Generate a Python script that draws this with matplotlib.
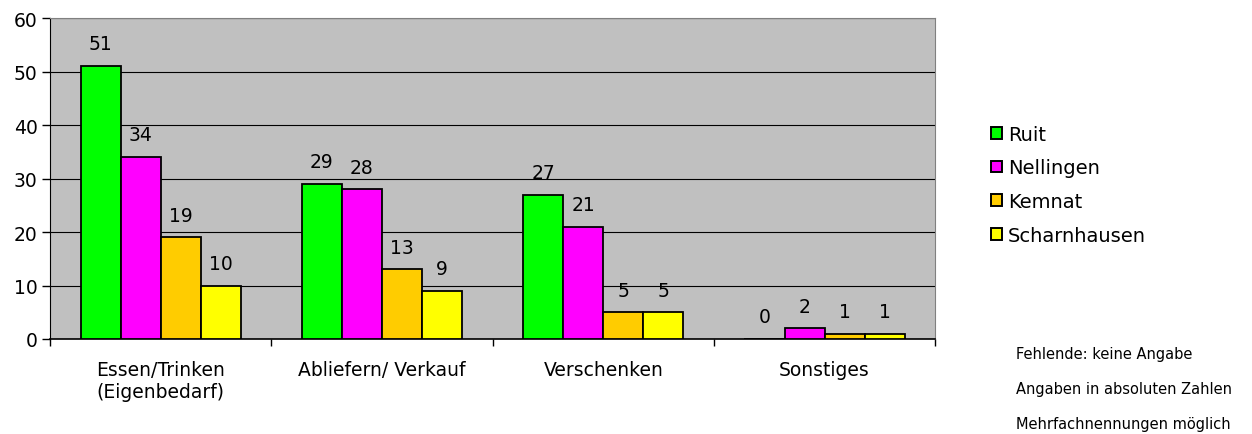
import numpy as np
import matplotlib.pyplot as plt
from matplotlib.patches import Patch

categories = ["Essen/Trinken\n(Eigenbedarf)", "Abliefern/ Verkauf", "Verschenken", "Sonstiges"]
series_names = ["Ruit", "Nellingen", "Kemnat", "Scharnhausen"]
ruit = [51, 29, 27, 0]
nellingen = [34, 28, 21, 2]
kemnat = [19, 13, 5, 1]
scharnhausen = [10, 9, 5, 1]
colors = ["#00FF00", "#FF00FF", "#FFCC00", "#FFFF00"]
notes = ["Fehlende: keine Angabe", "Angaben in absoluten Zahlen", "Mehrfachnennungen möglich"]

plt.rcParams["font.family"] = ["DejaVu Sans"]

fig = plt.figure(figsize=(12.52, 4.35), dpi=100)
ax = fig.add_axes([0.040, 0.2184, 0.707, 0.7378])
ax.set_facecolor("#C0C0C0")

x = np.arange(len(categories))
w = 0.181
all_series = [ruit, nellingen, kemnat, scharnhausen]
for i, (vals, col) in enumerate(zip(all_series, colors)):
    pos = x + (i - 1.5) * w
    ax.bar(pos, vals, width=w, color=col, edgecolor="black", linewidth=1.3, zorder=3)
    for p, v in zip(pos, vals):
        ax.annotate(str(v), (p, v), xytext=(0, 16), textcoords="offset points",
                    ha="center", va="center", fontsize=13.5)

ax.set_xlim(-0.5, len(categories) - 0.5)
ax.set_ylim(0, 60)
ax.set_yticks(range(0, 61, 10))
ax.yaxis.grid(True, color="black", linewidth=0.8, zorder=0)
ax.set_axisbelow(True)

ax.set_xticks(x)
ax.set_xticklabels(categories, fontsize=13.5, linespacing=1.2)
ax.set_xticks(np.arange(-0.5, len(categories), 1.0), minor=True)
ax.tick_params(axis="x", which="major", length=0, pad=15)
ax.tick_params(axis="x", which="minor", length=5, width=1, color="black", direction="out")
ax.tick_params(axis="y", labelsize=13.5, length=6, width=1, pad=3)

ax.spines["left"].set_color("black")
ax.spines["bottom"].set_color("black")
ax.spines["bottom"].set_linewidth(1.2)
ax.spines["top"].set_color("#808080")
ax.spines["right"].set_color("#808080")

handles = [Patch(facecolor=c, edgecolor="black", linewidth=1.4) for c in colors]
fig.legend(handles, series_names, loc="upper left", bbox_to_anchor=(0.784, 0.733),
           frameon=False, fontsize=14, handlelength=0.55, handleheight=0.55,
           handletextpad=0.3, labelspacing=0.75, borderpad=0)

for k, t in enumerate(notes):
    fig.text(1016 / 1252, 1 - (355 + 35 * k) / 435, t, fontsize=10.5, va="center", ha="left")

fig.savefig("out.png", dpi=100)
